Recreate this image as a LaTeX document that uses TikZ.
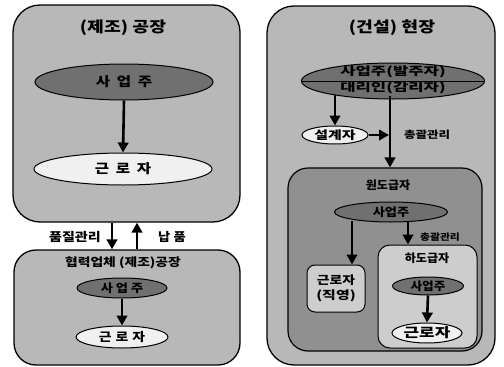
\documentclass[tikz,border=0pt]{standalone}
\usepackage{fontspec}
\setmainfont{Noto Sans CJK KR}[BoldFont={Noto Sans CJK KR Black}]
\usetikzlibrary{shapes.geometric,arrows.meta}
\definecolor{boxgray}{HTML}{B8B8B8}
\definecolor{darkell}{HTML}{707070}
\definecolor{wgray}{HTML}{909090}
\definecolor{hgray}{HTML}{CDCDCD}
\definecolor{lightfill}{HTML}{F0F0F0}
\newcommand{\hs}[2]{\scalebox{#1}[1]{#2}}
\newcommand{\fsz}[1]{\fontsize{#1}{#1}\bfseries}
\tikzset{
  bigbox/.style={draw=black, line width=1.3pt, fill=boxgray, rounded corners=27pt, inner sep=0pt},
  darkel/.style={ellipse, draw=black, line width=1pt, fill=darkell, inner sep=0pt},
  lightel/.style={ellipse, draw=black, line width=1pt, fill=lightfill, inner sep=0pt},
  arr/.style={line width=2.6pt, -{Triangle[length=10pt,width=10.5pt]}},
  lbl/.style={inner sep=0pt},
}
\begin{document}
\begin{tikzpicture}[x=1pt,y=-1pt]
\useasboundingbox (0,0) rectangle (504,367);
% ---------- left top ----------
\node[bigbox, minimum width=227pt, minimum height=217pt] (lbox) at (126.5,113.5) {};
\node[lbl, font=\fsz{15}] (ltitle) at (123,28) {\hs{1.22}{(제조) 공장}};
\node[darkel, minimum width=178pt, minimum height=36pt, font=\fsz{13}] (le1) at (124,82) {\hs{1.2}{사\hspace{5.5pt}업\hspace{5.5pt}주}};
\node[lightel, minimum width=178pt, minimum height=32pt, font=\fsz{13}] (le2) at (123,169) {\hs{1.2}{근\hspace{5.5pt}로\hspace{5.5pt}자}};
\draw[arr] (le1.south) -- (le2.north);
% ---------- left bottom ----------
\node[bigbox, rounded corners=22pt, minimum width=226pt, minimum height=115pt] (bbox) at (127,307.5) {};
\node[lbl, font=\fsz{11.5}] (btitle) at (123,263) {\hs{1.2}{협력업체 (제조)공장}};
\node[darkel, minimum width=90pt, minimum height=20pt, font=\fsz{11.5}] (be1) at (122,288) {\hs{1.15}{사\hspace{2.6pt}업\hspace{2.6pt}주}};
\node[lightel, minimum width=92pt, minimum height=22pt, font=\fsz{12}] (be2) at (122,337) {\hs{1.15}{근\hspace{3.5pt}로\hspace{3.5pt}자}};
\draw[arr] (be1.south) -- (be2.north);
% between
\coordinate (qx) at (112,0);
\coordinate (nx) at (137,0);
\draw[arr] (lbox.south -| qx) -- (bbox.north -| qx);
\draw[arr] (bbox.north -| nx) -- (lbox.south -| nx);
\node[lbl, font=\fsz{12}] (qlbl) at (75,237) {\hs{1.17}{품질관리}};
\node[lbl, font=\fsz{12}] (nlbl) at (172,237) {\hs{1.1}{납\hspace{3pt}품}};
% ---------- right ----------
\node[bigbox, minimum width=228pt, minimum height=359pt] (rbox) at (381,185.5) {};
\node[lbl, font=\fsz{15}] (rtitle) at (392,28) {\hs{1.22}{(건설) 현장}};
\node[darkel, minimum width=183pt, minimum height=36pt] (re1) at (393,81) {};
\draw[line width=1pt] (re1.west) -- (re1.east);
\node[lbl, font=\fsz{11.5}] (re1a) at (393,72) {\hs{1.45}{사업주(발주자)}};
\node[lbl, font=\fsz{11.5}] (re1b) at (393,88) {\hs{1.45}{대리인(감리자)}};
\node[lightel, minimum width=66pt, minimum height=18pt, font=\fsz{11.5}] (sel) at (335,135) {\hs{1.3}{설계자}};
\coordinate (vx) at (390,0);
\node[draw=black, line width=1.2pt, fill=wgray, rounded corners=20pt, minimum width=194pt, minimum height=183pt] (wbox) at (385,259.5) {};
\node[lbl, font=\fsz{11.5}] (wtitle) at (388,185) {\hs{1.05}{원도급자}};
\node[darkel, minimum width=113pt, minimum height=20pt, font=\fsz{11.5}] (we1) at (391,212) {\hs{1.15}{사업주}};
\node[draw=black, line width=1pt, fill=hgray, rounded corners=8pt, minimum width=58pt, minimum height=47pt, align=center, font=\fontsize{11.5}{15}\bfseries] (jik) at (336,288.5) {\hs{1.2}{근로자}\\\hs{1.3}{(직영)}};
\node[draw=black, line width=1pt, fill=hgray, rounded corners=12pt, minimum width=99pt, minimum height=103pt] (hbox) at (427.5,296.5) {};
\node[lbl, font=\fsz{11.5}] (htitle) at (427,258) {\hs{1.05}{하도급자}};
\node[darkel, minimum width=71pt, minimum height=18pt, font=\fsz{11.5}] (he1) at (428,286) {\hs{1.1}{사업주}};
\node[lightel, minimum width=70pt, minimum height=20pt, font=\fsz{13}] (he2) at (427,333) {\hs{1.3}{근로자}};
\draw[arr] (he1.south) -- (he2.north);
\node[lbl, font=\fsz{10}] (clbl1) at (427,135) {\hs{1.25}{총괄관리}};
\node[lbl, font=\fsz{9}] (clbl2) at (440,237) {\hs{1.2}{총괄관리}};
\coordinate (jx) at (352,0);
\coordinate (hx) at (408,0);
\draw[arr] (re1.center -| vx) ++(0,15) -- (wbox.north -| vx);
\draw[arr] (sel.east) -- ([xshift=-1pt]sel.east -| vx);
\draw[arr] (335,95) -- (sel.north);
\draw[arr] (we1.center -| jx) ++(0,9) -- (jik.north -| jx);
\draw[arr] (we1.south -| hx) ++(0,-1) -- (hbox.north -| hx);
\end{tikzpicture}
\end{document}
